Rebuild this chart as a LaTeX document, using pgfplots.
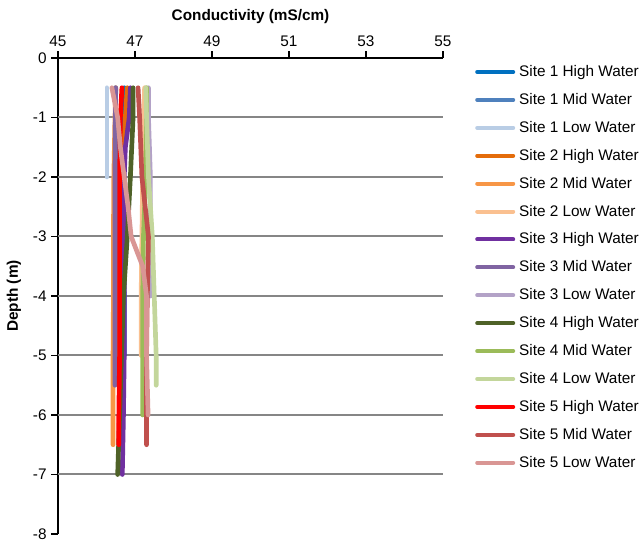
\documentclass[border=0pt]{standalone}
\usepackage{pgfplots}
\pgfplotsset{compat=1.18}
\usepackage{fontspec}
\setmainfont{Liberation Sans}
\usetikzlibrary{calc}

% Excel-style palette
\definecolor{sAh}{HTML}{0070C0}
\definecolor{sAm}{HTML}{4F81BD}
\definecolor{sAl}{HTML}{B9CDE5}
\definecolor{sBh}{HTML}{E46C0A}
\definecolor{sBm}{HTML}{F79646}
\definecolor{sBl}{HTML}{FAC090}
\definecolor{sCh}{HTML}{7030A0}
\definecolor{sCm}{HTML}{8064A2}
\definecolor{sCl}{HTML}{B3A2C7}
\definecolor{sDh}{HTML}{4F6228}
\definecolor{sDm}{HTML}{9BBB59}
\definecolor{sDl}{HTML}{C3D69B}
\definecolor{sEh}{HTML}{FF0000}
\definecolor{sEm}{HTML}{C0504D}
\definecolor{sEl}{HTML}{D99694}
\definecolor{gridgray}{HTML}{868686}

\newcommand{\lblfont}{\fontsize{11.5}{13.8}\selectfont}

\begin{document}
\begin{tikzpicture}
\begin{axis}[
  scale only axis,
  width=288.75pt, height=357pt,
  xmin=45, xmax=55, ymin=-8, ymax=0,
  xtick={45,47,...,55},
  ytick={-8,-7,...,0},
  axis x line*=top,
  axis y line*=left,
  axis line style={black, line width=1.5pt},
  tick style={black, line width=1.2pt},
  major tick length=5pt,
  tick align=outside,
  extra y ticks={-7,-6,-5,-4,-3,-2,-1},
  extra y tick labels={},
  extra y tick style={major tick length=0pt, ymajorgrids=true,
    grid style={gridgray, line width=1.5pt}},
  /pgf/number format/assume math mode=true,
  ticklabel style={font=\lblfont},
  xlabel={\textbf{Conductivity (mS/cm)}},
  ylabel={\textbf{Depth (m)}},
  label style={font=\lblfont},
  xlabel style={yshift=2pt},
  ylabel style={yshift=-3pt},
  legend cell align=left,
  legend style={at={(1.083,0.985)}, anchor=north west, draw=none, fill=none,
    font=\lblfont, row sep=11.1pt, inner sep=0pt,
    nodes={inner sep=0pt},
    /tikz/every odd column/.style={column sep=3pt}},
  legend image code/.code={\draw[#1, line width=3pt, line cap=round] (0pt,0pt) -- (27pt,0pt);},
  every axis plot/.append style={line width=3.5pt, line join=round, line cap=round, mark=none},
]
% Site 1
\addplot[sAh] coordinates {(46.72,-0.5) (46.70,-1) (46.70,-2) (46.70,-3) (46.72,-4) (46.72,-5)};
\addplot[sAm] coordinates {(46.50,-0.5) (46.50,-1) (46.50,-2) (46.50,-3) (46.50,-4) (46.50,-5)};
\addplot[sAl] coordinates {(46.27,-0.5) (46.27,-1) (46.27,-2)};
% Site 2
\addplot[sBh] coordinates {(46.80,-0.5) (46.75,-1) (46.65,-2) (46.62,-3) (46.60,-4) (46.60,-5) (46.60,-6)};
\addplot[sBm] coordinates {(46.50,-0.5) (46.48,-1) (46.45,-2) (46.44,-3) (46.44,-4) (46.43,-5) (46.43,-6) (46.43,-6.5)};
\addplot[sBl] coordinates {(47.25,-0.5) (47.22,-1) (47.20,-2) (47.18,-3) (47.16,-4) (47.16,-5)};
% Site 3
\addplot[sCh] coordinates {(46.88,-0.5) (46.85,-1) (46.75,-1.5) (46.72,-2) (46.72,-3) (46.72,-4) (46.72,-5) (46.70,-6) (46.67,-7)};
\addplot[sCm] coordinates {(46.50,-0.5) (46.49,-1) (46.48,-2) (46.48,-3) (46.48,-4) (46.48,-5) (46.48,-5.5)};
\addplot[sCl] coordinates {(47.35,-0.5) (47.35,-1) (47.40,-2) (47.40,-3) (47.40,-4)};
% Site 4
\addplot[sDh] coordinates {(46.95,-0.5) (46.95,-1) (46.88,-2) (46.80,-3) (46.70,-4) (46.65,-5) (46.60,-6) (46.55,-7)};
\addplot[sDm] coordinates {(47.30,-0.5) (47.30,-1) (47.28,-2) (47.22,-3) (47.20,-4) (47.20,-5) (47.20,-6)};
\addplot[sDl] coordinates {(47.28,-0.5) (47.30,-1) (47.35,-2) (47.45,-3) (47.50,-4) (47.55,-5) (47.55,-5.5)};
% Site 5
\addplot[sEh] coordinates {(46.66,-0.5) (46.62,-1) (46.60,-2) (46.60,-3) (46.60,-4) (46.60,-5) (46.58,-6) (46.58,-6.5)};
\addplot[sEm] coordinates {(47.08,-0.5) (47.12,-1) (47.18,-2) (47.35,-3) (47.32,-4) (47.30,-5) (47.30,-6) (47.30,-6.5)};
\addplot[sEl] coordinates {(46.40,-0.5) (46.55,-1) (46.62,-1.5) (46.72,-2) (46.82,-2.5) (46.90,-3) (47.20,-3.5) (47.30,-4) (47.30,-5) (47.34,-6)};
\legend{Site 1 High Water, Site 1 Mid Water, Site 1 Low Water,
        Site 2 High Water, Site 2 Mid Water, Site 2 Low Water,
        Site 3 High Water, Site 3 Mid Water, Site 3 Low Water,
        Site 4 High Water, Site 4 Mid Water, Site 4 Low Water,
        Site 5 High Water, Site 5 Mid Water, Site 5 Low Water}
\end{axis}
\pgfresetboundingbox
\path ($(current axis.south west)+(-43.5pt,-8.25pt)$) rectangle ($(current axis.north east)+(150pt,43.5pt)$);
\end{tikzpicture}
\end{document}
